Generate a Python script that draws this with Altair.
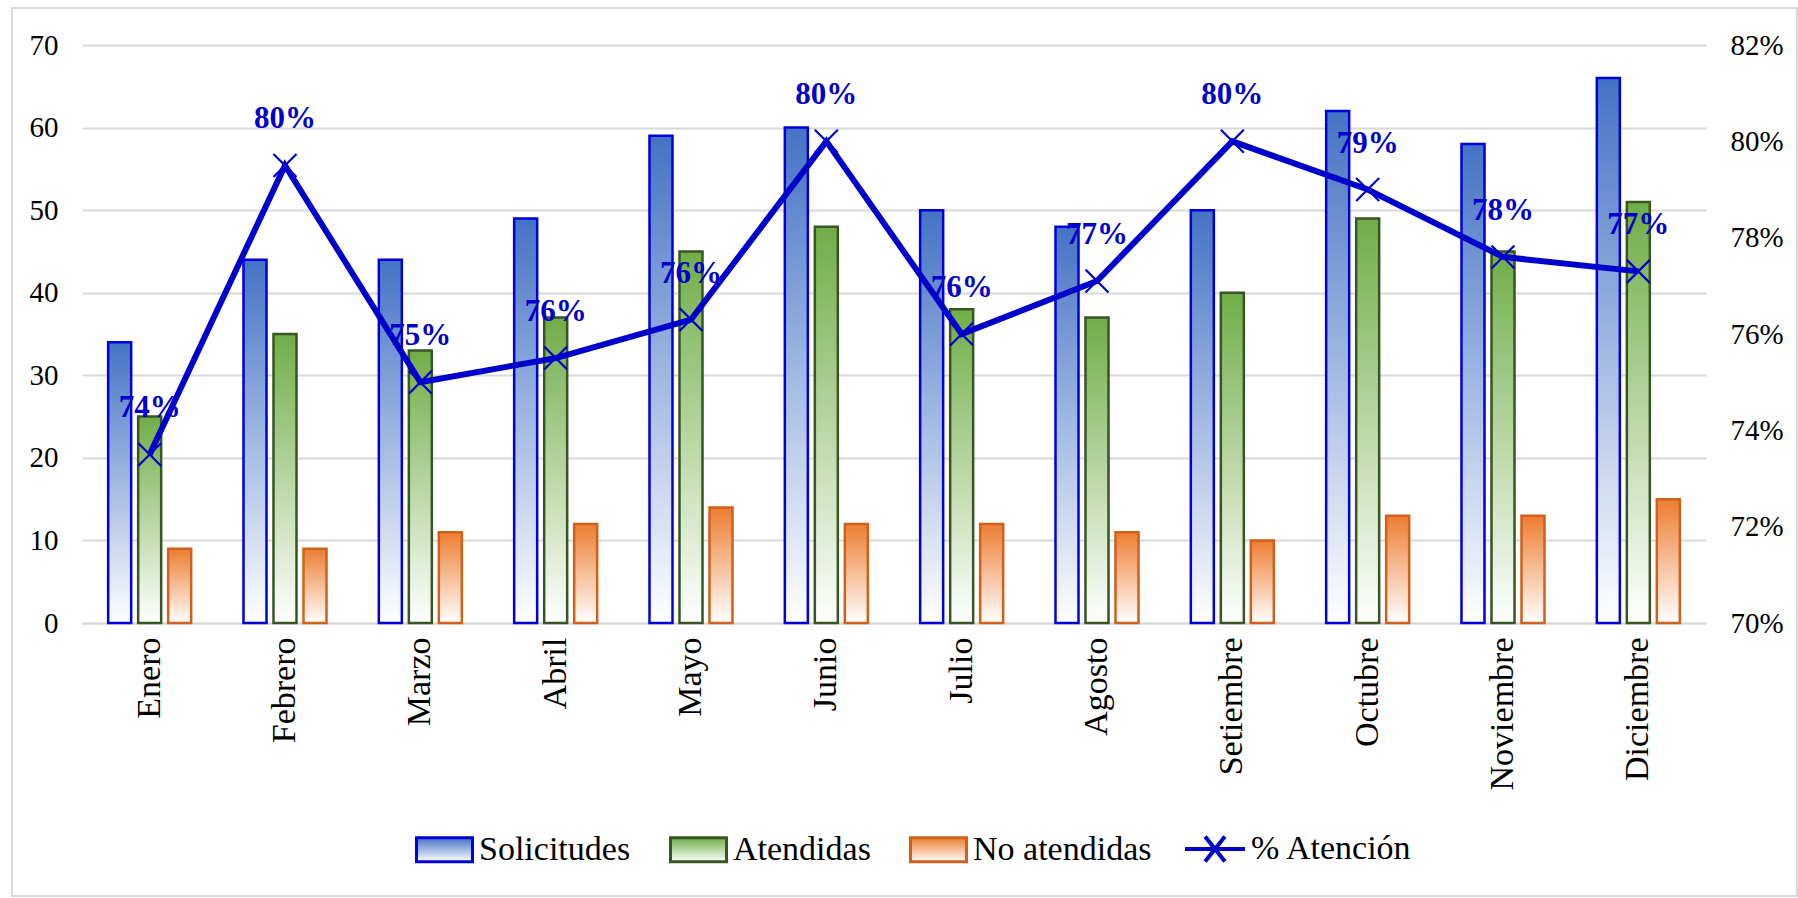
import altair as alt
import pandas as pd

months = ["Enero", "Febrero", "Marzo", "Abril", "Mayo", "Junio", "Julio",
          "Agosto", "Setiembre", "Octubre", "Noviembre", "Diciembre"]
solicitudes = [34, 44, 44, 49, 59, 60, 50, 48, 50, 62, 58, 66]
atendidas = [25, 35, 33, 37, 45, 48, 38, 37, 40, 49, 45, 51]
no_atendidas = [9, 9, 11, 12, 14, 12, 12, 11, 10, 13, 13, 15]
pct_atencion = [0.735, 0.795, 0.750, 0.755, 0.763, 0.800, 0.760, 0.771,
                0.800, 0.790, 0.776, 0.773]
pct_labels = ["74%", "80%", "75%", "76%", "76%", "80%", "76%", "77%",
              "80%", "79%", "78%", "77%"]
series = ["Solicitudes", "Atendidas", "No atendidas"]
line_name = "% Atención"
left_ticks = [0, 10, 20, 30, 40, 50, 60, 70]
right_ticks = [0.70, 0.72, 0.74, 0.76, 0.78, 0.80, 0.82]

top_colors = ["#4472C4", "#70AD47", "#ED7D31"]
stroke_colors = ["#0000DD", "#375623", "#D0601A"]
LINE_BLUE = "#0000CC"
FONT = "Liberation Serif"

rows = []
for i, m in enumerate(months):
    for s, vals in zip(series, [solicitudes, atendidas, no_atendidas]):
        rows.append({"mes": m, "serie": s, "valor": vals[i]})
bars_df = pd.DataFrame(rows)

line_df = pd.DataFrame({"mes": months, "pct": pct_atencion,
                        "etiqueta": pct_labels, "serie": [line_name] * len(months)})


def grad(c):
    return {"expr": "{gradient:'linear',x1:0,y1:0,x2:0,y2:1,stops:["
                    "{offset:0,color:'%s'},{offset:1,color:'#ffffff'}]}" % c}


W, H = 1624, 578

x_enc = alt.X("mes:N", sort=months, title=None,
              scale=alt.Scale(paddingInner=0, paddingOuter=0),
              axis=alt.Axis(labelAngle=270, labelFont=FONT, labelFontSize=34,
                            labelColor="#000000", labelPadding=14, ticks=False,
                            domain=True, domainColor="#D9D9D9", domainWidth=2))

bar_legend = alt.Legend(title=None, orient="none", legendX=333, legendY=775,
                        direction="horizontal",
                        symbolType="M-1,-0.43H1V0.43H-1Z", symbolSize=3136,
                        symbolStrokeWidth=3, labelFont=FONT, labelFontSize=34,
                        labelColor="#000000", labelOffset=5, columnPadding=33,
                        labelLimit=400)

bars = alt.Chart(bars_df).mark_bar(strokeWidth=2.5).encode(
    x=x_enc,
    xOffset=alt.XOffset("serie:N", sort=series,
                        scale=alt.Scale(domain=series, paddingInner=0.233,
                                        paddingOuter=0.872)),
    y=alt.Y("valor:Q", title=None,
            scale=alt.Scale(domain=[0, 70], nice=False),
            axis=alt.Axis(values=left_ticks, labelFont=FONT, labelFontSize=29,
                          labelColor="#000000", labelPadding=24, ticks=False,
                          domain=False, grid=True, gridColor="#D9D9D9",
                          gridWidth=2)),
    fill=alt.Fill("serie:N", sort=series,
                  scale=alt.Scale(domain=series,
                                  range=[grad(c) for c in top_colors]),
                  legend=bar_legend),
    stroke=alt.Stroke("serie:N", sort=series,
                      scale=alt.Scale(domain=series, range=stroke_colors),
                      legend=bar_legend),
)

y_right = alt.Y("pct:Q", title=None,
                scale=alt.Scale(domain=[0.70, 0.82], nice=False, zero=False),
                axis=alt.Axis(orient="right", values=right_ticks, format=".0%",
                              labelFont=FONT, labelFontSize=29,
                              labelColor="#000000", labelPadding=24,
                              ticks=False, domain=False, grid=False))

line = alt.Chart(line_df).mark_line(strokeWidth=6).encode(
    x=alt.X("mes:N", sort=months),
    y=y_right,
    color=alt.Color("serie:N",
                    scale=alt.Scale(domain=[line_name], range=[LINE_BLUE]),
                    legend=alt.Legend(title=None, orient="none", legendX=1101,
                                      legendY=772, direction="horizontal",
                                      symbolType="M-1,0H1M-0.33,-0.42L0.33,0.42M-0.33,0.42L0.33,-0.42",
                                      symbolSize=3600, symbolStrokeWidth=4,
                                      labelFont=FONT, labelFontSize=34,
                                      labelColor="#000000", labelOffset=4,
                                      labelLimit=400)),
)

markers = alt.Chart(line_df).mark_point(
    shape="M-1,-1L1,1M-1,1L1,-1", size=529, strokeWidth=2.2,
    color=LINE_BLUE, filled=False, opacity=1
).encode(x=alt.X("mes:N", sort=months), y=y_right)

labels = alt.Chart(line_df).mark_text(
    font=FONT, fontSize=31, fontWeight="bold", color=LINE_BLUE,
    dy=-46, baseline="middle", align="center"
).encode(x=alt.X("mes:N", sort=months), y=y_right, text="etiqueta:N")

frame = alt.Chart(alt.Data(values=[{"k": 1}])).mark_rect(
    fill=None, filled=False, stroke="#D9D9D9", strokeWidth=2
).encode(x=alt.value(-70), x2=alt.value(1715),
         y=alt.value(-37), y2=alt.value(851))

right_layer = alt.layer(line, markers, labels)

chart = alt.layer(frame, bars, right_layer).resolve_scale(
    y="independent"
).properties(
    width=W, height=H,
    autosize=alt.AutoSizeParams(type="none"),
    padding={"left": 82, "top": 45, "right": 92, "bottom": 275},
    background="white",
).configure_view(stroke=None).configure_legend(
    labelFont=FONT, labelFontSize=34, labelColor="#000000"
)

chart.save("out.html", embed_options={"renderer": "svg", "actions": False})
